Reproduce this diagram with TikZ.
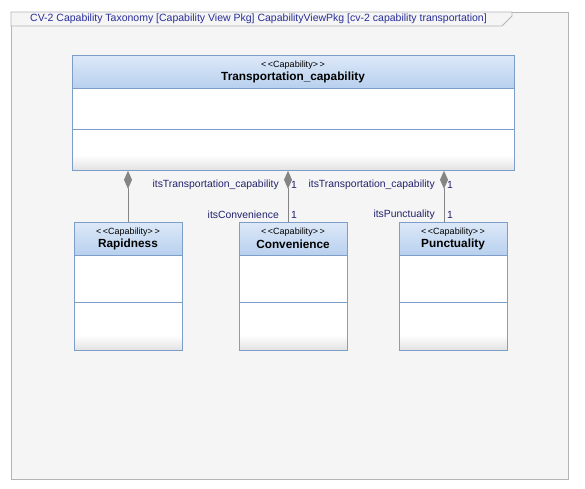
\documentclass[tikz,border=0pt]{standalone}
\usepackage{fontspec}
\setmainfont{Liberation Sans}
\usetikzlibrary{arrows.meta}
\definecolor{bgpanel}{HTML}{F5F5F5}
\definecolor{framegray}{HTML}{B4B4B4}
\definecolor{titleblue}{HTML}{2A2E9A}
\definecolor{labelblue}{HTML}{22226E}
\definecolor{boxline}{HTML}{7C9EC8}
\definecolor{hdtop}{HTML}{DDE9F8}
\definecolor{hdbot}{HTML}{B8D0EE}
\definecolor{botgray}{HTML}{E2E2E2}
\definecolor{conngray}{HTML}{858585}
\tikzset{
  stereo/.style={font=\fontsize{9}{10}\selectfont, text=black, inner sep=0pt},
  cname/.style={font=\fontsize{11.8}{12}\selectfont\bfseries, text=black, inner sep=0pt},
  rolelabel/.style={font=\fontsize{10.4}{11}\selectfont, text=labelblue, inner sep=0pt},
  classframe/.style={draw=boxline, line width=0.8pt, inner sep=0pt},
  conn/.style={draw=conngray, line width=1pt},
  comptip/.style={{Diamond[length=18pt,width=8pt,fill=conngray,color=conngray]}-}
}
% #1 name, #2 x, #3 y, #4 width, #5 height, #6 header height, #7 first compartment height, #8 title
\newcommand\capbox[8]{%
  \fill[white] (#2,#3) rectangle ({#2+#4},{#3+#5});
  \shade[top color=hdtop,bottom color=hdbot] (#2,#3) rectangle ({#2+#4},{#3+#6});
  \shade[top color=white,bottom color=botgray] (#2,{#3+#5-15}) rectangle ({#2+#4},{#3+#5});
  \draw[boxline, line width=0.8pt] (#2,{#3+#6}) -- ++(#4,0);
  \draw[boxline, line width=0.8pt] (#2,{#3+#6+#7}) -- ++(#4,0);
  \node[classframe, minimum width=#4pt, minimum height=#5pt, anchor=north west] (#1) at (#2,#3) {};
  \node[stereo] (#1-st) at ({#2+#4/2},{#3+10}) {{<}\,{<}Capability{>}\,{>}};
  \node[cname] (#1-nm) at ({#2+#4/2},{#3+22.5}) {#8};
}
\begin{document}
\begin{tikzpicture}[x=1pt,y=-1pt]
\fill[white] (0,0) rectangle (585,488);
\useasboundingbox (0,0) rectangle (585,488);
% frame
\draw[fill=bgpanel, draw=framegray, line width=0.8pt] (11,12) rectangle (568,479);
\draw[fill=bgpanel, draw=framegray, line width=0.8pt] (11,26) -- (11,12) -- (512,12) -- (512,16) -- (502,26) -- cycle;
\node[anchor=west, text=titleblue, font=\fontsize{10.5}{11}\selectfont, inner sep=0pt] (title) at (30,19) {CV-2 Capability Taxonomy [Capability View Pkg] CapabilityViewPkg [cv-2 capability transportation]};
% classes
\capbox{main}{72}{55}{442}{115}{33}{41}{Transportation\_capability}
\capbox{rap}{74}{222}{108}{128}{33}{47}{Rapidness}
\capbox{conv}{239}{222}{108}{128}{33}{47}{Convenience}
\capbox{punc}{399}{222}{108}{128}{33}{47}{Punctuality}
% connector x positions
\coordinate (xa) at (128,0);
\coordinate (xb) at (288,0);
\coordinate (xc) at (444,0);
\draw[conn, comptip] (main.south -| xa) -- (rap.north -| xa);
\draw[conn, comptip] (main.south -| xb) -- (conv.north -| xb);
\draw[conn, comptip] (main.south -| xc) -- (punc.north -| xc);
% role labels
\node[rolelabel, anchor=east] (l1) at (279,184.5) {itsTransportation\_capability};
\node[rolelabel, anchor=west] (m1) at (291,184.5) {1};
\node[rolelabel, anchor=east] (l2) at (435,184.5) {itsTransportation\_capability};
\node[rolelabel, anchor=west] (m2) at (447,184.5) {1};
\node[rolelabel, anchor=east] (l3) at (279,215) {itsConvenience};
\node[rolelabel, anchor=west] (m3) at (291,215) {1};
\node[rolelabel, anchor=east] (l4) at (435,215) {itsPunctuality};
\node[rolelabel, anchor=west] (m4) at (447,215) {1};
\end{tikzpicture}
\end{document}
